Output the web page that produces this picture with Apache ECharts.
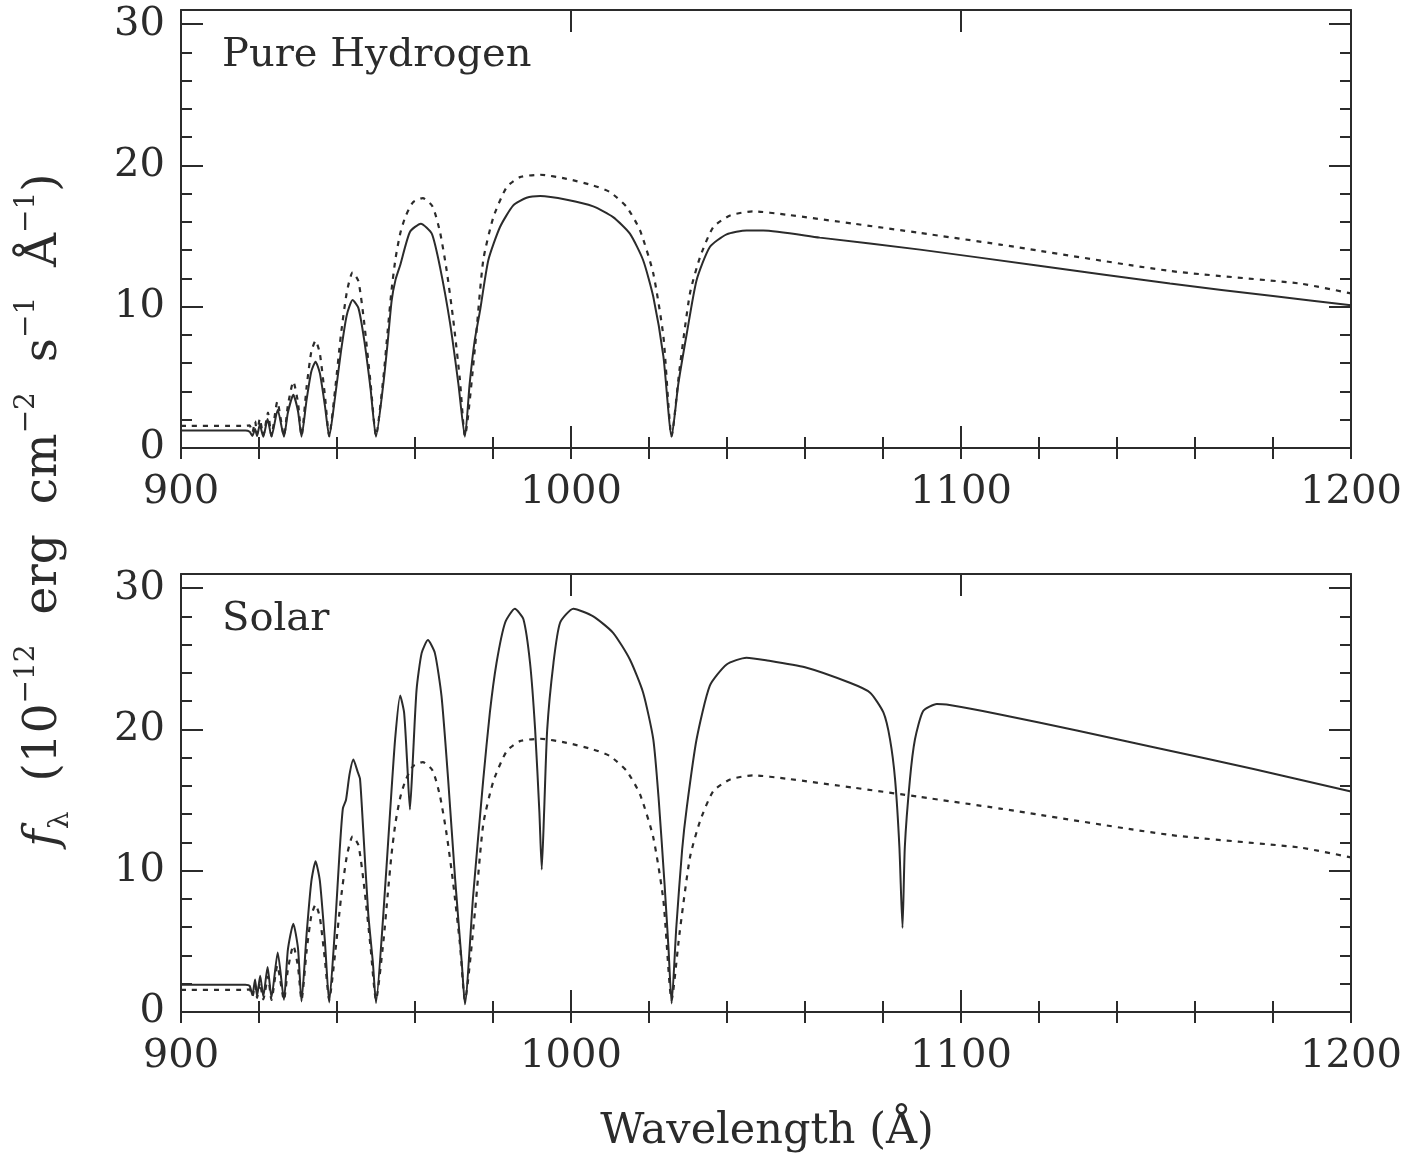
<!DOCTYPE html>
<html>
<head>
<meta charset="utf-8">
<script src="https://cdn.jsdelivr.net/npm/echarts@6/dist/echarts.min.js"></script>
<style>
  html, body { margin: 0; padding: 0; background: #fff; }
  #chart { width: 1424px; height: 1158px; }
</style>
</head>
<body>
<div id="chart"></div>
<script>
// ---- Data (wavelength in Å, flux in 1e-12 erg cm^-2 s^-1 Å^-1) ----
// Pure-hydrogen model, solid curve (top panel)
const hydrogenSolid = [
  [900,1.24],[916.5,1.24],[917.6,1.15],[918.3,0.85],[919.0,1.35],[919.5,0.85],[920.2,1.64],[921.1,0.8],
  [922.2,2.05],[923.2,0.8],[924.8,2.7],[926.4,0.8],[927.4,2.5],[928.8,3.76],[930.0,2.6],[930.9,0.8],
  [932.2,3.4],[933.4,5.4],[934.5,6.11],[935.6,5.3],[936.9,3.0],[938.0,0.8],
  [939.5,3.6],[941.0,6.8],[942.5,9.4],[944.0,10.47],[945.5,9.9],[947.0,7.6],[948.6,4.2],[950.0,0.8],
  [951.9,4.6],[953.0,7.5],[954.0,10.4],[955.0,11.9],[956.2,12.94],[958.7,15.29],[961.5,15.88],
  [964.3,15.17],[966.4,12.82],[969.0,8.82],[971.1,4.59],[972.8,0.8],
  [974.0,4.5],[975.3,7.6],[976.7,9.76],[978.8,13.29],[981.8,15.64],[985.2,17.17],[988.6,17.71],
  [992.1,17.83],[998.9,17.57],[1005.7,17.10],[1010.8,16.34],[1015.1,15.17],[1018.5,13.29],
  [1021.1,10.7],[1023.7,6.46],[1025.8,0.8],
  [1027.5,4.5],[1029.7,8.12],[1032.2,11.88],[1035.6,14.23],[1039.9,15.12],[1045.0,15.4],[1049.3,15.4],
  [1063.8,14.89],[1089.5,14.04],[1120,12.9],[1153.6,11.64],[1180,10.75],[1200,10.1]
];
// Pure-hydrogen reference model, dotted curve (drawn in both panels)
const hydrogenDotted = [
  [900,1.57],[916.5,1.57],[917.6,1.6],[918.3,1.1],[919.0,1.9],[919.5,1.0],[920.2,2.07],[921.1,0.9],
  [922.3,2.5],[923.2,0.85],[924.7,3.29],[926.4,0.85],[927.4,3.0],[928.8,4.7],[930.0,3.2],[930.9,0.85],
  [932.2,4.3],[933.4,6.8],[934.5,7.6],[935.6,6.7],[936.9,3.7],[938.0,0.85],
  [939.5,4.1],[941.0,8.0],[942.5,11.0],[944.0,12.44],[945.5,11.8],[947.0,8.8],[948.6,4.6],[950.0,0.85],
  [951.9,5.0],[953.0,8.3],[954.0,11.2],[955.0,13.4],[956.2,15.17],[957.5,16.34],[959.5,17.4],[962.0,17.69],
  [964.5,17.1],[966.4,15.3],[968.1,12.6],[969.8,9.1],[971.5,4.87],[972.8,0.85],
  [975.4,7.17],[977.5,13.29],[980.1,16.34],[983.5,18.46],[986.9,19.17],[992.1,19.34],[998.9,19.05],
  [1005.7,18.58],[1010.0,18.11],[1014.3,17.05],[1017.7,15.4],[1021.1,12.35],[1023.7,7.88],[1025.8,0.85],
  [1027.8,5.5],[1030.5,10.94],[1033.1,13.52],[1036.5,15.64],[1040.8,16.46],[1046.7,16.75],[1055.3,16.51],
  [1072.4,15.88],[1089.5,15.22],[1110,14.4],[1153.6,12.53],[1186.9,11.64],[1200,10.94]
];
// Solar-abundance model, solid curve (bottom panel)
const solarSolid = [
  [900,1.93],[916.5,1.93],[917.6,1.85],[918.3,1.2],[919.0,2.3],[919.5,1.1],[920.3,2.57],[921.1,1.1],
  [922.2,3.19],[923.2,1.03],[924.8,4.22],[926.4,0.87],[927.4,4.4],[928.8,6.25],[930.0,4.5],[930.9,0.75],
  [932.2,5.5],[933.4,9.2],[934.5,10.67],[935.6,9.3],[936.9,5.0],[938.0,0.68],
  [939.5,6.0],[940.7,11.5],[941.5,14.4],[942.3,15.0],[943.2,16.8],[944.2,17.87],[945.3,17.0],[945.9,16.5],
  [946.7,13.0],[948.0,7.0],[949.2,3.5],[950.0,0.64],
  [951.9,7.0],[953.6,14.1],[954.9,19.3],[956.2,22.4],[957.2,21.2],[958.0,17.6],[958.7,14.33],[959.4,17.6],
  [960.4,22.8],[961.7,25.4],[963.3,26.32],[965.1,25.4],[966.8,22.35],[968.5,16.45],[970.3,9.37],
  [972.0,3.47],[972.8,0.55],
  [974.9,8.19],[977.5,16.45],[979.2,21.2],[980.9,24.7],[983.1,27.55],[985.6,28.54],[987.8,27.8],
  [989.5,24.7],[990.8,20.0],[991.9,14.1],[992.5,10.08],[993.1,14.1],[993.9,20.0],[995.5,24.7],
  [997.2,27.55],[1000.6,28.54],[1005.7,28.0],[1010.8,26.84],[1015.1,24.95],[1018.5,22.6],[1021.1,19.3],
  [1022.5,15.0],[1024.0,9.0],[1025.0,4.5],[1025.8,0.6],
  [1027.0,6.0],[1028.5,11.5],[1029.7,14.5],[1032.2,19.3],[1035.6,23.1],[1039.9,24.6],[1045.0,25.08],
  [1050,24.9],[1060,24.4],[1071.5,23.3],[1076.7,22.6],[1080.1,21.2],[1081.8,19.3],[1083.1,16.45],
  [1084.2,11.7],[1085.0,5.95],[1085.6,11.7],[1086.9,16.45],[1088.2,19.3],[1090.3,21.3],[1093.8,21.8],
  [1096.3,21.76],[1110,21.06],[1130,19.9],[1150,18.7],[1175,17.2],[1200,15.6]
];
const panelLabels = ['Pure Hydrogen', 'Solar'];
const xTitle = 'Wavelength (Å)';
const yTitle = '{i|f}{sub|λ}  (10{sup|−12}  erg  cm{sup|−2}  s{sup|−1}  Å{sup|−1})';
const xRange = [900, 1200];
const yRange = [0, 31];
const xMajor = 100, xMinor = 20, yMajor = 10, yMinor = 2;

// ---- Styling ----
const INK = '#2b2b2b';
const FONT = 'DejaVu Serif';
const FS = 40;

const grids = [
  { left: 181, top: 10, width: 1170, height: 438 },
  { left: 181, top: 574, width: 1170, height: 438 }
];

function tickStyle(len) {
  return { show: true, inside: true, length: len, lineStyle: { color: INK, width: 2 } };
}
function plainLabel(v) { return String(v); }
function makeXAxes(gi) {
  const base = { type: 'value', gridIndex: gi, min: xRange[0], max: xRange[1], splitLine: { show: false } };
  return [
    Object.assign({}, base, { position: 'bottom', interval: xMajor,
      axisLine: { show: true, onZero: false, lineStyle: { color: INK, width: 2 } },
      axisTick: tickStyle(22),
      axisLabel: { show: true, margin: 25, formatter: plainLabel, fontFamily: FONT, fontSize: FS, color: INK } }),
    Object.assign({}, base, { position: 'bottom', interval: xMinor,
      axisLine: { show: false }, axisTick: tickStyle(11), axisLabel: { show: false } }),
    Object.assign({}, base, { position: 'top', interval: xMajor,
      axisLine: { show: true, onZero: false, lineStyle: { color: INK, width: 2 } },
      axisTick: tickStyle(22), axisLabel: { show: false } }),
    Object.assign({}, base, { position: 'top', interval: xMinor,
      axisLine: { show: false }, axisTick: tickStyle(11), axisLabel: { show: false } })
  ];
}
function makeYAxes(gi) {
  const base = { type: 'value', gridIndex: gi, min: yRange[0], max: yRange[1], splitLine: { show: false } };
  return [
    Object.assign({}, base, { position: 'left', interval: yMajor,
      axisLine: { show: true, onZero: false, lineStyle: { color: INK, width: 2 } },
      axisTick: tickStyle(22),
      axisLabel: { show: true, margin: 16, showMaxLabel: false, formatter: plainLabel, fontFamily: FONT, fontSize: FS, color: INK } }),
    Object.assign({}, base, { position: 'left', interval: yMinor,
      axisLine: { show: false }, axisTick: tickStyle(11), axisLabel: { show: false } }),
    Object.assign({}, base, { position: 'right', interval: yMajor,
      axisLine: { show: true, onZero: false, lineStyle: { color: INK, width: 2 } },
      axisTick: tickStyle(22), axisLabel: { show: false } }),
    Object.assign({}, base, { position: 'right', interval: yMinor,
      axisLine: { show: false }, axisTick: tickStyle(11), axisLabel: { show: false } })
  ];
}

function lineSeries(data, gi, dotted) {
  return {
    type: 'line', data: data, xAxisIndex: gi * 4, yAxisIndex: gi * 4,
    symbol: 'none', showSymbol: false, smooth: 0.2, silent: true, animation: false,
    lineStyle: { color: INK, width: dotted ? 2.2 : 2, type: dotted ? [5, 6] : 'solid' }
  };
}

const option = {
  backgroundColor: '#ffffff',
  animation: false,
  grid: grids,
  xAxis: makeXAxes(0).concat(makeXAxes(1)),
  yAxis: makeYAxes(0).concat(makeYAxes(1)),
  series: [
    lineSeries(hydrogenDotted, 0, true),
    lineSeries(hydrogenSolid, 0, false),
    lineSeries(hydrogenDotted, 1, true),
    lineSeries(solarSolid, 1, false)
  ],
  graphic: [
    { type: 'text', x: 222, y: 56, silent: true,
      style: { text: panelLabels[0], font: FS + 'px "' + FONT + '"', fill: INK, align: 'left', verticalAlign: 'middle' } },
    { type: 'text', x: 222, y: 620, silent: true,
      style: { text: panelLabels[1], font: FS + 'px "' + FONT + '"', fill: INK, align: 'left', verticalAlign: 'middle' } },
    { type: 'text', x: 767, y: 1132, silent: true,
      style: { text: xTitle, font: '43px "' + FONT + '"', fill: INK, align: 'center', verticalAlign: 'middle' } },
    { type: 'text', x: 44, y: 510, rotation: Math.PI / 2, silent: true,
      style: {
        text: yTitle,
        font: '47px "' + FONT + '"', fill: INK, align: 'center', verticalAlign: 'middle',
        rich: {
          i: { fontFamily: FONT, fontSize: 47, fontStyle: 'italic', fill: INK, lineHeight: 62, verticalAlign: 'middle' },
          sub: { fontFamily: FONT, fontSize: 28, fill: INK, lineHeight: 28, verticalAlign: 'bottom' },
          sup: { fontFamily: FONT, fontSize: 28, fill: INK, lineHeight: 28, verticalAlign: 'top' }
        }
      } }
  ]
};

const chart = echarts.init(document.getElementById('chart'), null, { renderer: 'canvas' });
chart.setOption(option);
</script>
</body>
</html>
